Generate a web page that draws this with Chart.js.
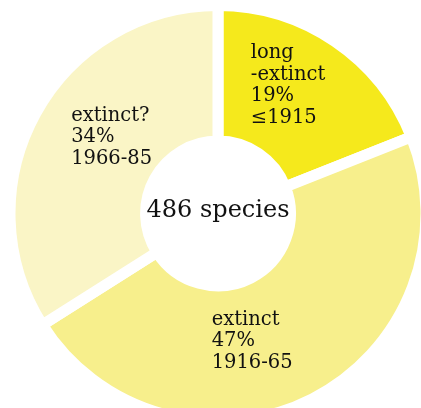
<!DOCTYPE html>
<html lang="en">
<head>
  <meta charset="UTF-8" />
  <title>486 species</title>
  <script src="https://cdn.jsdelivr.net/npm/chart.js@4.4.1/dist/chart.umd.min.js"></script>
  <style>
    html, body {
      margin: 0;
      background: #fff;
      overflow: hidden;
      width: 421px;
      height: 408px;
    }
    .chart-box {
      position: absolute;
      left: 0;
      top: 0;
      width: 436px;
      height: 427px;
    }
  </style>
</head>
<body>
  <div class="chart-box">
    <canvas id="speciesChart"></canvas>
  </div>

  <script>
    // data
    const categories = ['long-extinct', 'extinct', 'extinct?'];
    const labelLines = [['long', '-extinct'], ['extinct'], ['extinct?']];
    const shares = [19, 47, 34];
    const periods = ['\u22641915', '1916-65', '1966-85'];
    const totalSpecies = 486;

    const colors = ['#f5e91c', '#f7ef8c', '#faf5c6'];
    // where each text block sits relative to the slice centre point
    const nudges = [[-46, -12], [-70, 3], [-24, -9]];

    const sliceText = {
      id: 'sliceText',
      afterDatasetsDraw(chart) {
        const ctx = chart.ctx;
        const arcs = chart.getDatasetMeta(0).data;
        ctx.save();
        ctx.fillStyle = '#111';
        ctx.font = '19.5px "DejaVu Serif"';
        ctx.textAlign = 'left';
        ctx.textBaseline = 'middle';
        const lh = 21.5;
        arcs.forEach((arc, i) => {
          const p = arc.getCenterPoint();
          const lines = labelLines[i].concat([shares[i] + '%', periods[i]]);
          const x = p.x + nudges[i][0];
          const y0 = p.y + nudges[i][1] - (lines.length - 1) * lh / 2;
          lines.forEach((t, j) => ctx.fillText(t, x, y0 + j * lh));
        });
        const c = arcs[0];
        ctx.font = '24px "DejaVu Serif"';
        ctx.textAlign = 'center';
        ctx.fillText(totalSpecies + ' species', c.x, c.y - 3);
        ctx.restore();
      }
    };

    new Chart(document.getElementById('speciesChart'), {
      type: 'doughnut',
      data: {
        labels: categories,
        datasets: [{
          data: shares,
          backgroundColor: colors,
          borderColor: '#ffffff',
          borderWidth: 11,
          hoverOffset: 0
        }]
      },
      options: {
        responsive: true,
        maintainAspectRatio: false,
        animation: false,
        radius: 208,
        cutout: '34.8%',
        layout: { padding: 0 },
        plugins: {
          legend: { display: false },
          tooltip: { enabled: false }
        },
        events: []
      },
      plugins: [sliceText]
    });
  </script>
</body>
</html>
